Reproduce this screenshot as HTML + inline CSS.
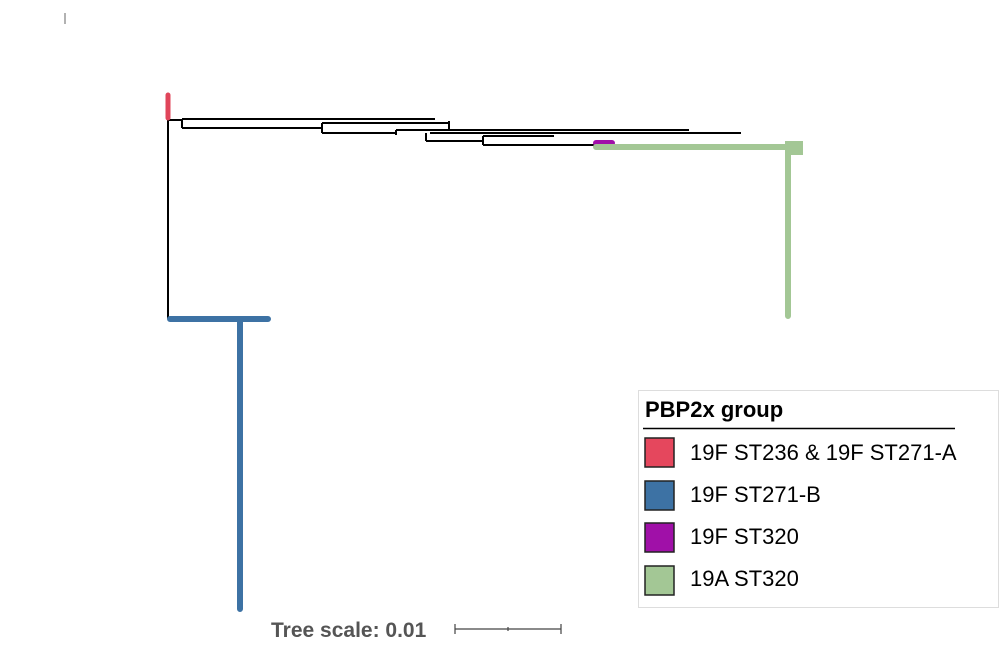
<!DOCTYPE html>
<html><head><meta charset="utf-8"><style>
body{margin:0;background:#fff;}
svg{display:block;font-family:"Liberation Sans",Arial,sans-serif;}
</style></head><body>
<svg width="1000" height="666" viewBox="0 0 1000 666">
<line x1="65" y1="13" x2="65" y2="24" stroke="#666" stroke-width="1"/>
<g id="tree" fill="none" stroke="#000" stroke-width="2">
<path d="M168 120 V319"/>
<path d="M168 120 H182 M182 119 V128 M182 119 H435 M182 128 H322"/>
<path d="M322 123 V133 M322 123 H449 M449 121 V130 M322 133 H396 M396 130 V135 M396 130 H689 M430 133 H741"/>
<path d="M426 133 V141 M426 141 H483 M483 136 V145 M483 136 H554 M483 145 H596"/>
</g>
<line x1="168" y1="95" x2="168" y2="118" stroke="#e0455a" stroke-width="5" stroke-linecap="round"/>
<line x1="596" y1="143" x2="612" y2="143" stroke="#a010a8" stroke-width="6" stroke-linecap="round"/>
<g stroke="#a3c795" stroke-width="6" stroke-linecap="round" fill="none">
<path d="M596 147 H798 M788 147 V316"/>
<rect x="786" y="142" width="16" height="12" fill="#a3c795" stroke-width="2"/>
</g>
<g stroke="#3d72a4" stroke-width="6" stroke-linecap="round" fill="none">
<path d="M170 319 H268 M240 319 V609"/>
</g>
<g>
<text x="271" y="637" font-size="21" font-weight="bold" fill="#555">Tree scale: 0.01</text>
<path d="M455 629 H561 M455 624 V634 M561 624 V634 M508 627 V631" stroke="#444" stroke-width="1.2"/>
</g>
<g>
<rect x="638.5" y="390.5" width="360" height="217" fill="#fff" stroke="#ddd"/>
<text x="645" y="417" font-size="22" font-weight="bold" fill="#000">PBP2x group</text>
<line x1="643" y1="428.5" x2="955" y2="428.5" stroke="#000" stroke-width="1.5"/>
<g><rect x="645" y="438" width="29" height="29" fill="#e5475d" stroke="#222" stroke-width="1.5"/><text x="690" y="460" font-size="22">19F ST236 &amp; 19F ST271-A</text></g>
<g><rect x="645" y="481" width="29" height="29" fill="#3d72a4" stroke="#222" stroke-width="1.5"/><text x="690" y="502" font-size="22">19F ST271-B</text></g>
<g><rect x="645" y="523" width="29" height="29" fill="#a010a8" stroke="#222" stroke-width="1.5"/><text x="690" y="544" font-size="22">19F ST320</text></g>
<g><rect x="645" y="566" width="29" height="29" fill="#a3c795" stroke="#222" stroke-width="1.5"/><text x="690" y="586" font-size="22">19A ST320</text></g>
</g>
</svg>
</body></html>
